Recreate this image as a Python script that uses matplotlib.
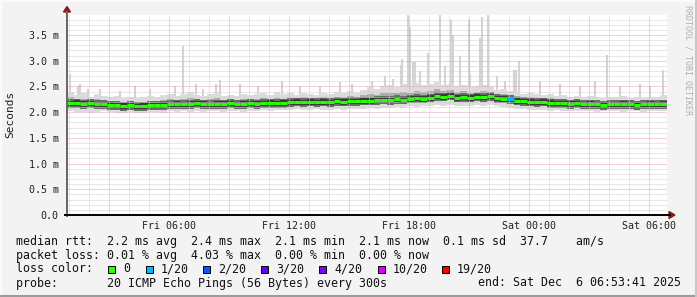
import matplotlib
matplotlib.use('Agg')
import matplotlib.pyplot as plt
import numpy as np
from matplotlib.patches import Rectangle, Polygon

# ---- data (ms), 20 minute bins starting Fri 00:53:41 ----
t_start = 0.895          # hours since Fri 00:00
bin_h = 1.0 / 3.0

median_ms = [2.17, 2.18, 2.16, 2.17, 2.15,
             2.15, 2.14, 2.13,
             2.12, 2.13, 2.11, 2.12, 2.13, 2.13, 2.14,
             2.15, 2.16, 2.15, 2.16, 2.17, 2.16, 2.15, 2.16,
             2.16, 2.17, 2.15, 2.16, 2.17, 2.16,
             2.17, 2.18, 2.17, 2.18,
             2.19, 2.20, 2.19, 2.20,
             2.19, 2.20, 2.19, 2.21, 2.20, 2.21, 2.21,
             2.22, 2.22, 2.23,
             2.24, 2.23, 2.25, 2.24,
             2.26, 2.27, 2.26, 2.28,
             2.31, 2.30, 2.32,
             2.28, 2.29, 2.28,
             2.30, 2.29, 2.31,
             2.27, 2.26, 2.25,
             2.22, 2.21, 2.20, 2.19, 2.20,
             2.18, 2.17, 2.17, 2.16, 2.17,
             2.15, 2.16, 2.15, 2.14, 2.15, 2.15, 2.16, 2.15, 2.14, 2.15, 2.16, 2.15, 2.16]

loss_n = [0] * 90
loss_n[66] = 1           # one bin with 1/20 loss late Friday

ping_min = [2.02, 2.00, 2.01, 1.99, 2.01, 2.02, 2.00, 1.99, 1.98, 2.00, 1.99, 1.98, 2.00, 2.01, 1.99,
            2.02, 2.01, 2.03, 2.00, 2.02, 2.01, 2.03, 2.02, 2.01, 2.03, 2.02, 2.00, 2.02, 2.03,
            2.04, 2.03, 2.05, 2.04, 2.05, 2.06, 2.04, 2.05, 2.06, 2.05, 2.04, 2.06, 2.05, 2.07, 2.06,
            2.07, 2.08, 2.07, 2.09, 2.08, 2.10, 2.09, 2.11, 2.10, 2.12, 2.11, 2.13, 2.12, 2.14, 2.12,
            2.11, 2.12, 2.13, 2.12, 2.13, 2.11, 2.10, 2.09,
            2.07, 2.06, 2.05, 2.04, 2.05, 2.03, 2.04, 2.03, 2.02, 2.03, 2.02, 2.03, 2.01, 2.02, 2.03,
            2.02, 2.01, 2.03, 2.02, 2.01, 2.03, 2.02, 2.03]

ping_max = [2.40, 2.33, 2.37, 2.30, 2.35, 2.32, 2.29, 2.31, 2.28, 2.30, 2.27, 2.29, 2.31, 2.30, 2.33,
            2.36, 2.31, 2.35, 2.39, 2.33, 2.31, 2.36, 2.38, 2.32, 2.34, 2.31, 2.36, 2.33, 2.35,
            2.37, 2.34, 2.39, 2.35, 2.37, 2.34, 2.38, 2.36, 2.34, 2.38, 2.35, 2.39, 2.37, 2.41, 2.38,
            2.44, 2.48, 2.45, 2.50, 2.52, 2.48, 2.54, 2.50, 2.56, 2.52, 2.55, 2.58, 2.52, 2.54, 2.50,
            2.52, 2.48, 2.50, 2.53, 2.48, 2.44, 2.45, 2.42,
            2.39, 2.36, 2.38, 2.35, 2.33, 2.36, 2.31, 2.34, 2.30, 2.32, 2.29, 2.31, 2.30, 2.28, 2.30,
            2.29, 2.31, 2.28, 2.30, 2.27, 2.30, 2.29, 2.33]

# narrow single-ping spikes: (hour since Fri 00:00, ms)
spike_t = [1.05, 1.45, 1.55, 1.95, 2.55, 3.55, 4.30, 5.05, 6.30, 6.70, 7.35, 7.70, 8.35, 8.55,
           9.55, 10.45, 11.65, 12.55, 13.55, 14.55, 15.15, 16.15, 16.80, 17.20,
           17.60, 17.65, 17.95, 18.05, 18.20, 18.30, 18.55, 18.95,
           19.55, 19.80, 20.10, 20.20, 20.55, 21.00, 21.05, 21.55, 21.65, 21.95,
           22.40, 22.80, 23.25, 23.35, 23.50, 24.55, 25.55,
           26.55, 27.30, 27.90, 28.55, 29.55, 30.05, 30.70]
spike_v = [2.75, 2.50, 2.55, 2.45, 2.45, 2.42, 2.50, 2.45, 2.50, 3.29, 2.55, 2.45, 2.55, 2.62,
           2.55, 2.50, 2.60, 2.50, 2.50, 2.58, 2.55, 2.60, 2.70, 2.65,
           2.92, 3.03, 3.89, 3.66, 2.98, 2.98, 2.80, 3.15,
           3.89, 2.90, 3.80, 3.50, 3.10, 3.80, 2.75, 3.44, 3.85, 3.89,
           2.70, 2.60, 2.82, 2.82, 3.00, 2.60, 2.55,
           2.50, 2.60, 3.11, 2.50, 2.55, 2.50, 2.82]

y_ticks = [0.0, 0.5, 1.0, 1.5, 2.0, 2.5, 3.0, 3.5]
y_labels = ['0.0', '0.5 m', '1.0 m', '1.5 m', '2.0 m', '2.5 m', '3.0 m', '3.5 m']
x_ticks = [6, 12, 18, 24, 30]
x_labels = ['Fri 06:00', 'Fri 12:00', 'Fri 18:00', 'Sat 00:00', 'Sat 06:00']

loss_labels = ['0', '1/20', '2/20', '3/20', '4/20', '10/20', '19/20']
loss_colors = ['#26ff00', '#00b8ff', '#0059ff', '#5e00ff', '#7e00ff', '#dd00ff', '#ff0000']
loss_steps = [0, 1, 2, 3, 4, 10, 19]

# ---- figure ----
W, H = 697, 297
fig = plt.figure(figsize=(W / 100, H / 100), dpi=100, facecolor='#f3f3f3')
ax = fig.add_axes([67 / W, 1 - 215 / H, 600 / W, 200 / H])
ax.set_facecolor('white')
ax.set_xlim(t_start, t_start + 30)
ax.set_ylim(0, 3.889)

n = len(median_ms)
t = t_start + np.arange(n) * bin_h
te = np.append(t, t[-1] + bin_h)
med = np.array(median_ms)
lo = np.array(ping_min)
hi = np.array(ping_max)

def st(a):
    return np.append(a, a[-1])

# smoke
ax.vlines(spike_t, 2.2, spike_v, colors='#d4d4d4', lw=1.5, zorder=1)
ax.fill_between(te, st(lo), st(hi), step='post', color='#dcdcdc', lw=0, zorder=2)
ax.fill_between(te, st((lo + med) / 2), st((hi + med) / 2), step='post', color='#ababab', lw=0, zorder=2)
ax.fill_between(te, st(med - 0.09), st(med + 0.08), step='post', color='#6a6a6a', lw=0, zorder=2)
ax.fill_between(te, st(med - 0.055), st(med + 0.05), step='post', color='#383838', lw=0, zorder=2)

# grid
for h in np.arange(1, 31):
    c, z = ('#e8a6a6', 4) if h % 3 == 0 else ('#d0d0d0', 3)
    ax.axvline(h, color=c, lw=0.72, ls=(0, (1, 1)), zorder=z)
for v in np.arange(1, 39) / 10:
    major = abs(v * 2 - round(v * 2)) < 1e-6
    c, z = ('#e8a6a6', 4) if major else ('#d0d0d0', 3)
    ax.axhline(v, color=c, lw=0.72, ls=(0, (1, 1)), zorder=z)

# median coloured by loss
cols = [loss_colors[loss_steps.index(k)] for k in loss_n]
ax.hlines(med, t, t + bin_h, colors=cols, lw=2.2, capstyle='butt', zorder=5)

ax.set_xticks(x_ticks)
ax.set_xticklabels(x_labels)
ax.set_yticks(y_ticks)
ax.set_yticklabels(y_labels)
ax.tick_params(axis='y', length=0, labelsize=7.2, pad=6, labelcolor='#222222')
ax.tick_params(axis='x', length=0, labelsize=7.2, pad=4, labelcolor='#222222')
for lab in ax.get_xticklabels() + ax.get_yticklabels():
    lab.set_family('DejaVu Sans Mono')
for s in ax.spines.values():
    s.set_visible(False)

# ---- overlay in pixel coords ----
ov = fig.add_axes([0, 0, 1, 1], zorder=10)
ov.set_xlim(0, W)
ov.set_ylim(H, 0)
ov.axis('off')
ov.patch.set_alpha(0)

ov.plot([66.5, 66.5], [12, 216], color='#666666', lw=1.4)
ov.plot([65, 670], [215, 215], color='black', lw=1.4)
ov.add_patch(Polygon([[63.5, 12], [70.5, 12], [67, 6.5]], color='#8b1a1a'))
ov.add_patch(Polygon([[669, 211.5], [669, 218.5], [675, 215]], color='#8b1a1a'))

# frame shading
ov.plot([0, W], [0.5, 0.5], color='#fbfbfb', lw=1.5)
ov.plot([0.5, 0.5], [0, H], color='#fbfbfb', lw=1.5)
ov.plot([0, W], [296, 296], color='#9c9c9c', lw=1.5)
ov.plot([696, 696], [0, H], color='#c8c8c8', lw=1.5)

ov.text(10, 114, 'Seconds', rotation=90, ha='center', va='center',
        family='DejaVu Sans Mono', fontsize=8, color='#222222')
ov.text(688, 5, 'RRDTOOL / TOBI OETIKER', rotation=270, ha='center', va='top',
        family='DejaVu Sans Mono', fontsize=6, color='#b0b0b0')

mono = dict(family='DejaVu Sans Mono', fontsize=8.4, color='#111111', va='center', ha='left')
ov.text(16, 241, 'median rtt:  2.2 ms avg  2.4 ms max  2.1 ms min  2.1 ms now  0.1 ms sd  37.7    am/s', **mono)
ov.text(16, 255, 'packet loss: 0.01 % avg  4.03 % max  0.00 % min  0.00 % now', **mono)
ov.text(16, 269, 'loss color:', **mono)
box_x = [108.3, 145.7, 203.3, 261.0, 319.3, 377.7, 441.7]
for bx, lab, col in zip(box_x, loss_labels, loss_colors):
    ov.add_patch(Rectangle((bx, 265.5), 7, 7, facecolor=col, edgecolor='black', lw=0.7))
    ov.text(bx + 15, 269, lab, **mono)
ov.text(16, 283, 'probe:       20 ICMP Echo Pings (56 Bytes) every 300s', **mono)
ov.text(478, 283, 'end: Sat Dec  6 06:53:41 2025', **mono)

fig.savefig('out.png', dpi=100, facecolor=fig.get_facecolor())
